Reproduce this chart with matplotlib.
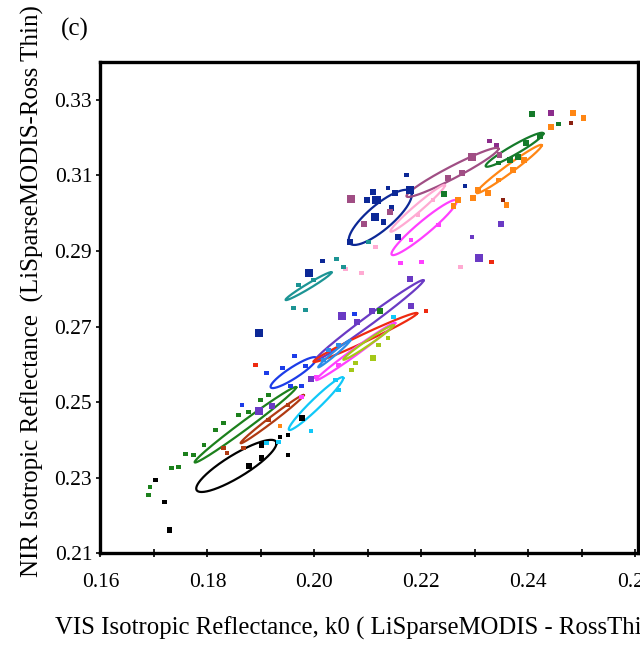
import numpy as np
import matplotlib
matplotlib.use("Agg")
import matplotlib.pyplot as plt
from matplotlib.ticker import MultipleLocator

plt.rcParams["font.family"] = ["Liberation Serif", "DejaVu Serif"]

palette = {
    "navy": "#0c2896", "black": "#000000", "green": "#1c801c", "dkgreen": "#157a2a",
    "brown": "#b03a12", "cyan": "#10c8f8", "blue": "#1c3ce8", "violet": "#6a3ac4",
    "red": "#ee2a10", "magenta": "#ff40ff", "yellowgreen": "#a4c818", "dodger": "#2c8ce8",
    "teal": "#1c9494", "plum": "#a04e84", "pink": "#ffaad2", "orange": "#ff8614",
    "purple": "#8c2c8c", "darkred": "#8a2010",
}

# ellipse groups: centre, half extents in x and y, phase (thickness, degrees)
ell_color = ["navy", "black", "green", "brown", "cyan", "blue", "violet", "red",
             "magenta", "yellowgreen", "dodger", "teal", "plum", "pink", "magenta",
             "dkgreen", "orange"]
ell_cx = [0.2123, 0.1854, 0.1871, 0.1921, 0.2003, 0.1961, 0.2103, 0.2095,
          0.2077, 0.2101, 0.2037, 0.1989, 0.2258, 0.2193, 0.2205, 0.2374, 0.2364]
ell_cy = [0.2989, 0.2331, 0.2440, 0.2455, 0.2496, 0.2578, 0.2717, 0.2671,
          0.2634, 0.2658, 0.2628, 0.2807, 0.3108, 0.3013, 0.2962, 0.3168, 0.3117]
ell_ax = [0.0059, 0.0075, 0.0095, 0.0059, 0.0051, 0.0043, 0.0101, 0.0097,
          0.0074, 0.0047, 0.0030, 0.0043, 0.0086, 0.0051, 0.0061, 0.0054, 0.0061]
ell_ay = [0.0073, 0.0069, 0.0100, 0.0064, 0.0070, 0.0041, 0.0106, 0.0065,
          0.0076, 0.0046, 0.0036, 0.0037, 0.0065, 0.0062, 0.0073, 0.0045, 0.0064]
ell_phase = [35, 30, 8, 8, 15, 25, 8, 10, 8, 10, 10, 12, 16, 12, 18, 18, 12]

# scatter points
pt_x = [0.2406, 0.2443, 0.2484, 0.2503, 0.2480, 0.2456, 0.2443, 0.2327, 0.2340, 0.2295,
        0.2346, 0.2275, 0.2250, 0.2282, 0.2243, 0.2269, 0.2260, 0.2348, 0.2295, 0.2307,
        0.2331, 0.2273, 0.2396, 0.2381, 0.2366, 0.2344, 0.2421, 0.2305, 0.2325, 0.2344,
        0.2372, 0.2391, 0.2297, 0.2353, 0.2359,
        0.2172, 0.2110, 0.2099, 0.2116, 0.2114, 0.2129, 0.2144, 0.2157, 0.2178, 0.2151,
        0.2067, 0.2138, 0.2069, 0.2093, 0.2142, 0.2101, 0.2114, 0.2161, 0.2200, 0.2088,
        0.2058, 0.2194, 0.2222, 0.2181, 0.2232,
        0.2015, 0.1989, 0.2041, 0.2054, 0.1961, 0.1983, 0.1970, 0.1998,
        0.2178, 0.2052, 0.2075, 0.2123, 0.2107, 0.2209, 0.2181, 0.2148, 0.2079, 0.2110,
        0.2069, 0.2077, 0.2120, 0.2138, 0.2026, 0.2045, 0.2017, 0.1993,
        0.1963, 0.1940, 0.1910, 0.1983, 0.1955, 0.1976, 0.1864, 0.1890, 0.1897,
        0.1897, 0.1921, 0.1976, 0.1993, 0.1936, 0.1936, 0.1951, 0.1933, 0.1910, 0.1901,
        0.1951, 0.1901, 0.1877, 0.1830, 0.1837, 0.1867,
        0.1733, 0.1746, 0.1759, 0.1693, 0.1690, 0.1703, 0.1720, 0.1729,
        0.1815, 0.1830, 0.1858, 0.1793, 0.1774, 0.1877, 0.1899, 0.1914,
        0.2045, 0.2039, 0.1914, 0.1951, 0.1976, 0.2045, 0.2004]
pt_y = [0.3263, 0.3266, 0.3266, 0.3252, 0.3239, 0.3236, 0.3228, 0.3191, 0.3181, 0.3149,
        0.3154, 0.3107, 0.3093, 0.3072, 0.3051, 0.3035, 0.3019, 0.2972, 0.2937, 0.2881,
        0.2871, 0.2858, 0.3186, 0.3149, 0.3141, 0.3133, 0.3205, 0.3062, 0.3054, 0.3088,
        0.3115, 0.3141, 0.3040, 0.3035, 0.3022,
        0.3101, 0.3056, 0.3035, 0.3035, 0.2990, 0.2977, 0.3014, 0.2937, 0.3062, 0.3054,
        0.2924, 0.3067, 0.3038, 0.2972, 0.3003, 0.2924, 0.2911, 0.2868, 0.2871, 0.2842,
        0.2852, 0.2995, 0.3035, 0.2929, 0.2969,
        0.2874, 0.2842, 0.2879, 0.2858, 0.2749, 0.2744, 0.2810, 0.2823,
        0.2826, 0.2728, 0.2733, 0.2741, 0.2741, 0.2741, 0.2754, 0.2725, 0.2712, 0.2617,
        0.2585, 0.2603, 0.2651, 0.2670, 0.2638, 0.2651, 0.2611, 0.2561,
        0.2622, 0.2590, 0.2577, 0.2595, 0.2542, 0.2542, 0.2492, 0.2598, 0.2683,
        0.2476, 0.2489, 0.2458, 0.2423, 0.2436, 0.2407, 0.2413, 0.2394, 0.2391, 0.2386,
        0.2360, 0.2352, 0.2330, 0.2378, 0.2365, 0.2378,
        0.2325, 0.2328, 0.2362, 0.2275, 0.2254, 0.2293, 0.2235, 0.2161,
        0.2426, 0.2444, 0.2466, 0.2386, 0.2360, 0.2474, 0.2505, 0.2519,
        0.2532, 0.2558, 0.2452, 0.2492, 0.2513, 0.2598, 0.2566]
pt_color = ["dkgreen", "purple", "orange", "orange", "darkred", "dkgreen", "orange", "purple", "purple", "plum",
            "plum", "plum", "plum", "navy", "dkgreen", "orange", "orange", "violet", "violet", "violet",
            "red", "pink", "dkgreen", "dkgreen", "dkgreen", "dkgreen", "dkgreen", "orange", "orange", "orange",
            "orange", "orange", "orange", "darkred", "orange",
            "navy", "navy", "navy", "navy", "navy", "navy", "navy", "navy", "navy", "navy",
            "navy", "navy", "plum", "plum", "plum", "teal", "pink", "magenta", "magenta", "pink",
            "pink", "pink", "pink", "magenta", "magenta",
            "navy", "navy", "teal", "teal", "teal", "teal", "teal", "teal",
            "violet", "violet", "blue", "green", "violet", "red", "violet", "cyan", "violet", "yellowgreen",
            "yellowgreen", "yellowgreen", "yellowgreen", "yellowgreen", "dodger", "dodger", "dodger", "violet",
            "blue", "blue", "blue", "blue", "blue", "blue", "blue", "red", "navy",
            "violet", "violet", "black", "cyan", "orange", "black", "black", "cyan", "cyan", "black",
            "black", "black", "black", "brown", "brown", "brown",
            "green", "green", "green", "green", "green", "black", "black", "black",
            "green", "green", "green", "green", "green", "green", "green", "green",
            "cyan", "cyan", "brown", "brown", "magenta", "magenta", "magenta"]
pt_big = [1, 1, 1, 1, 0, 0, 1, 0, 0, 2,
          1, 1, 1, 0, 1, 1, 1, 1, 0, 2,
          0, 0, 1, 1, 1, 0, 1, 1, 1, 0,
          1, 1, 1, 0, 1,
          0, 1, 1, 2, 2, 1, 1, 1, 2, 1,
          1, 0, 2, 1, 1, 0, 0, 0, 0, 0,
          0, 0, 0, 0, 0,
          0, 2, 0, 0, 0, 0, 0, 0,
          1, 2, 0, 1, 1, 0, 1, 0, 1, 1,
          0, 0, 0, 0, 0, 0, 0, 1,
          0, 0, 0, 0, 0, 0, 0, 0, 2,
          2, 1, 1, 0, 0, 0, 0, 0, 0, 1,
          0, 1, 1, 0, 0, 0,
          0, 0, 0, 0, 0, 0, 0, 1,
          0, 0, 0, 0, 0, 0, 0, 0,
          0, 0, 0, 0, 0, 0, 0]

fig = plt.figure(figsize=(6.4, 6.47), dpi=100)
ax = fig.add_axes([0.157, 0.145, 0.84, 0.759])

t = np.linspace(0, 2 * np.pi, 300)
for c, cx, cy, ex, ey, ph in zip(ell_color, ell_cx, ell_cy, ell_ax, ell_ay, ell_phase):
    ax.plot(cx + ex * np.cos(t), cy + ey * np.cos(t - np.radians(ph)),
            color=palette[c], lw=1.6, zorder=3)

sizes = [10, 18, 34]
ax.scatter(pt_x, pt_y, s=[sizes[b] for b in pt_big], c=[palette[c] for c in pt_color],
           marker="s", linewidths=0, zorder=4)

ax.set_xlim(0.16, 0.2605)
ax.set_ylim(0.21, 0.34)
ax.xaxis.set_minor_locator(MultipleLocator(0.01))
ax.set_yticks(np.arange(0.21, 0.335, 0.02))
ax.set_xticks(np.arange(0.16, 0.265, 0.02))
ax.set_xticklabels(["0.16", "0.18", "0.20", "0.22", "0.24", "0.26"])
ax.set_yticklabels(["0.21", "0.23", "0.25", "0.27", "0.29", "0.31", "0.33"])
ax.tick_params(axis="x", which="both", direction="inout", length=6, width=1.2, pad=11, labelsize=15.5)
ax.tick_params(axis="y", direction="out", length=3, width=1.2, pad=3, labelsize=15.5)
for s in ax.spines.values():
    s.set_linewidth(2.4)

fig.text(0.086, 0.029, "VIS Isotropic Reflectance, k0 ( LiSparseMODIS - RossThin)",
         fontsize=17.8, ha="left", va="center")
fig.text(0.05, 0.55, "NIR Isotropic Reflectance  (LiSparseMODIS-Ross Thin)",
         fontsize=18, rotation=90, ha="center", va="center")
fig.text(0.095, 0.955, "(c)", fontsize=18, ha="left", va="center")

fig.savefig("out.png", dpi=100)
